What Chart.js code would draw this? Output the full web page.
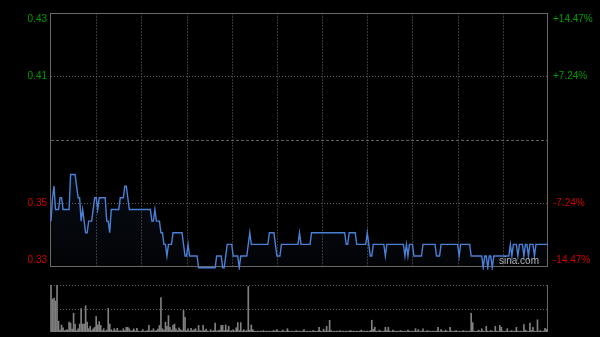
<!DOCTYPE html>
<html>
<head>
<meta charset="utf-8">
<script src="https://cdn.jsdelivr.net/npm/chart.js@4.4.0/dist/chart.umd.min.js"></script>
<style>
html, body { margin: 0; padding: 0; background: #000; }
#wrap { position: relative; width: 600px; height: 337px; background: #000; overflow: hidden; }
#priceBox { position: absolute; left: 0; top: 0; width: 600px; height: 280px; }
#volBox { position: absolute; left: 0; top: 280px; width: 600px; height: 57px; }
</style>
</head>
<body>
<div id="wrap">
	<div id="priceBox"><canvas id="priceChart" width="600" height="280"></canvas></div>
	<div id="volBox"><canvas id="volChart" width="600" height="57"></canvas></div>
</div>
<script>
var prevClose = 0.375
var pctSteps = [-14.47, -7.24, 0, 7.24, 14.47]
var leftLabels = ['0.33', '0.35', '', '0.41', '0.43']
var rightLabels = ['-14.47%', '-7.24%', '', '+7.24%', '+14.47%']

// one value per minute, 9:30-12:00 and 13:00-16:00
var price = [
	0.34, 0.35, 0.355, 0.345, 0.345, 0.345, 0.35, 0.35, 0.345, 0.345,
	0.345, 0.345, 0.345, 0.36, 0.36, 0.36, 0.36, 0.355, 0.35, 0.35,
	0.34, 0.345, 0.34, 0.335, 0.335, 0.34, 0.34, 0.34, 0.345, 0.35,
	0.35, 0.345, 0.35, 0.35, 0.35, 0.35, 0.35, 0.34, 0.34, 0.335,
	0.345, 0.345, 0.345, 0.345, 0.345, 0.345, 0.35, 0.35, 0.35, 0.355,
	0.355, 0.35, 0.345, 0.345, 0.345, 0.345, 0.345, 0.345, 0.345, 0.345,
	0.345, 0.345, 0.345, 0.345, 0.345, 0.345, 0.345, 0.34, 0.34, 0.345,
	0.34, 0.34, 0.34, 0.335, 0.335, 0.33, 0.33, 0.325, 0.33, 0.33,
	0.33, 0.335, 0.335, 0.335, 0.335, 0.335, 0.335, 0.335, 0.33, 0.325,
	0.325, 0.33, 0.325, 0.325, 0.325, 0.325, 0.325, 0.325, 0.32, 0.32,
	0.32, 0.32, 0.32, 0.32, 0.32, 0.32, 0.32, 0.32, 0.32, 0.32,
	0.325, 0.325, 0.325, 0.325, 0.32, 0.32, 0.325, 0.33, 0.33, 0.33,
	0.33, 0.325, 0.325, 0.325, 0.325, 0.32, 0.325, 0.325, 0.325, 0.325,
	0.325, 0.33, 0.335, 0.33, 0.33, 0.33, 0.33, 0.33, 0.33, 0.33,
	0.33, 0.33, 0.33, 0.33, 0.33, 0.335, 0.335, 0.335, 0.335, 0.33,
	0.325, 0.325, 0.325, 0.33, 0.33, 0.33, 0.33, 0.33, 0.33, 0.33,
	0.33, 0.33, 0.33, 0.33, 0.33, 0.335, 0.33, 0.33, 0.33, 0.33,
	0.33, 0.33, 0.33, 0.335, 0.335, 0.335, 0.335, 0.335, 0.335, 0.335,
	0.335, 0.335, 0.335, 0.335, 0.335, 0.335, 0.335, 0.335, 0.335, 0.335,
	0.335, 0.335, 0.335, 0.335, 0.335, 0.335, 0.33, 0.33, 0.335, 0.335,
	0.335, 0.335, 0.335, 0.33, 0.33, 0.33, 0.33, 0.33, 0.33, 0.33,
	0.335, 0.33, 0.325, 0.325, 0.33, 0.33, 0.33, 0.33, 0.33, 0.33,
	0.33, 0.33, 0.325, 0.33, 0.33, 0.33, 0.33, 0.33, 0.33, 0.33,
	0.33, 0.33, 0.33, 0.33, 0.33, 0.325, 0.33, 0.325, 0.33, 0.33,
	0.33, 0.325, 0.325, 0.325, 0.325, 0.325, 0.325, 0.33, 0.33, 0.33,
	0.33, 0.33, 0.33, 0.33, 0.33, 0.33, 0.325, 0.325, 0.325, 0.33,
	0.33, 0.33, 0.33, 0.33, 0.33, 0.33, 0.33, 0.33, 0.33, 0.33,
	0.33, 0.325, 0.33, 0.33, 0.33, 0.33, 0.33, 0.33, 0.33, 0.325,
	0.325, 0.325, 0.325, 0.325, 0.325, 0.325, 0.325, 0.32, 0.325, 0.325,
	0.32, 0.325, 0.325, 0.32, 0.325, 0.325, 0.325, 0.325, 0.325, 0.325,
	0.325, 0.325, 0.325, 0.325, 0.325, 0.33, 0.325, 0.33, 0.33, 0.33,
	0.325, 0.33, 0.33, 0.33, 0.325, 0.33, 0.33, 0.325, 0.33, 0.33,
	0.33, 0.325, 0.33, 0.33, 0.33, 0.33, 0.33, 0.33, 0.33, 0.33,
	0.33
]

// volume, 100 = top line of the lower panel
var volume = [
	100, 70, 72, 66, 100, 23, 4, 15, 9, 3,
	4, 5, 21, 19, 6, 40, 17, 3, 7, 17,
	50, 17, 17, 56, 21, 7, 12, 3, 7, 10,
	33, 15, 22, 14, 3, 7, 2, 4, 50, 17,
	5, 2, 7, 3, 8, 2, 3, 2, 7, 3,
	10, 10, 7, 2, 3, 7, 2, 8, 2, 1,
	2, 5, 1, 2, 3, 14, 2, 3, 7, 2,
	3, 6, 14, 73, 7, 4, 21, 12, 35, 10,
	4, 14, 17, 7, 3, 9, 5, 3, 46, 31,
	3, 7, 2, 8, 3, 5, 7, 2, 14, 3,
	2, 14, 3, 6, 2, 1, 5, 2, 3, 19,
	2, 3, 4, 14, 14, 3, 15, 4, 12, 2,
	3, 5, 2, 9, 20, 3, 20, 2, 5, 2,
	3, 97, 4, 15, 5, 2, 1, 2, 1, 2,
	1, 3, 1, 2, 1, 2, 1, 2, 3, 2,
	5, 2, 1, 2, 4, 1, 2, 7, 2, 1,
	2, 1, 2, 3, 1, 2, 1, 2, 5, 1,
	2, 1, 2, 1, 3, 2, 1, 2, 10, 2,
	1, 6, 2, 12, 2, 25, 3, 1, 2, 1,
	2, 1, 3, 1, 2, 1, 2, 1, 2, 3,
	1, 2, 1, 2, 1, 2, 4, 1, 2, 1,
	2, 1, 3, 25, 6, 10, 2, 1, 4, 2,
	1, 2, 10, 3, 10, 2, 1, 4, 2, 1,
	2, 1, 3, 2, 1, 2, 1, 4, 2, 1,
	2, 1, 7, 2, 5, 1, 2, 7, 1, 2,
	3, 1, 2, 1, 2, 1, 2, 10, 1, 5,
	2, 1, 4, 2, 1, 10, 2, 1, 2, 3,
	1, 2, 1, 2, 3, 1, 2, 1, 2, 40,
	20, 2, 1, 2, 4, 1, 7, 2, 1, 12,
	2, 1, 3, 2, 1, 12, 2, 1, 14, 10,
	2, 1, 2, 7, 1, 2, 3, 1, 2, 10,
	2, 1, 2, 1, 16, 4, 2, 1, 19, 3,
	10, 2, 1, 26, 2, 3, 1, 2, 8, 6,
	3
]

var upColor = '#009c00'
var downColor = '#d00000'
var labelFont = { family: 'Liberation Sans, Arial, sans-serif', size: 10 }

/* time labels */
var times = []
function pad(n) { return n < 10 ? '0' + n : '' + n }
for (var m = 9 * 60 + 30; m < 12 * 60; m++) times.push(Math.floor(m / 60) + ':' + pad(m % 60))
for (var m = 13 * 60; m <= 16 * 60; m++) times.push(Math.floor(m / 60) + ':' + pad(m % 60))

var tickVals = pctSteps.map(function(p) { return prevClose * (1 + p / 100) })

function sideLabel(list) {
	return function(value, index) {
		if (index == 0) return [list[index], '']
		if (index == list.length - 1) return ['', list[index]]
		return list[index]
	}
}

function tickColor(ctx) {
	return ctx.index < 2 ? downColor : upColor
}

function priceAxis(pos, list, width, padding) {
	return {
		position: pos,
		min: tickVals[0],
		max: tickVals[tickVals.length - 1],
		afterBuildTicks: function(scale) {
			scale.ticks = tickVals.map(function(v) { return { value: v } })
		},
		afterFit: function(scale) {
			scale.width = width
			scale.paddingTop = 0
			scale.paddingBottom = 0
		},
		grid: { display: false, drawTicks: false },
		border: { display: false },
		ticks: {
			autoSkip: false,
			padding: padding,
			color: tickColor,
			font: labelFont,
			callback: sideLabel(list)
		}
	}
}

var priceGrid = {
	id: 'priceGrid',
	beforeDatasetsDraw: function(c) {
		var a = c.chartArea, x = c.scales.x, y = c.scales.y, g = c.ctx
		g.save()
		g.lineWidth = 1
		g.strokeStyle = '#363636'
		g.setLineDash([2, 1])
		for (var i = 30; i < price.length - 1; i += 30) {
			var px = Math.round(x.getPixelForValue(i)) + 0.5
			g.beginPath(); g.moveTo(px, a.top); g.lineTo(px, a.bottom); g.stroke()
		}
		for (var k = 1; k < tickVals.length - 1; k++) {
			var py = Math.round(y.getPixelForValue(tickVals[k])) + 0.5
			g.strokeStyle = '#5e5e5e'
			g.setLineDash(k == 2 ? [3, 2] : [1, 2])
			g.beginPath(); g.moveTo(a.left, py); g.lineTo(a.right, py); g.stroke()
		}
		g.setLineDash([])
		g.strokeStyle = '#686868'
		g.strokeRect(a.left - 0.5, a.top + 0.5, a.right - a.left, a.bottom - a.top)
		g.restore()
	},
	afterDatasetsDraw: function(c) {
		var a = c.chartArea, g = c.ctx
		g.save()
		g.font = '10px Liberation Sans, Arial, sans-serif'
		g.fillStyle = '#b4b4b4'
		g.textBaseline = 'alphabetic'
		g.fillText('sina.com', a.right - 49, a.bottom - 2)
		g.restore()
	}
}

var volGrid = {
	id: 'volGrid',
	beforeDatasetsDraw: function(c) {
		var a = c.chartArea, y = c.scales.y, g = c.ctx
		g.save()
		g.lineWidth = 1
		g.strokeStyle = '#5e5e5e'
		g.setLineDash([1, 2])
		var rows = [a.top + 0.5, Math.round(y.getPixelForValue(50)) + 0.5, a.bottom - 0.5]
		rows.forEach(function(py) {
			g.beginPath(); g.moveTo(a.left, py); g.lineTo(a.right, py); g.stroke()
		})
		g.setLineDash([])
		g.strokeStyle = '#686868'
		g.beginPath()
		g.moveTo(a.left - 0.5, a.top); g.lineTo(a.left - 0.5, a.bottom)
		g.moveTo(a.right - 0.5, a.top); g.lineTo(a.right - 0.5, a.bottom)
		g.stroke()
		g.restore()
	}
}

/* price chart */
var ctx = document.getElementById('priceChart').getContext('2d')
var chart = new Chart(ctx, {
	type: 'line',
	data: {
		labels: times,
		datasets: [{
			data: price,
			yAxisID: 'y',
			borderColor: '#4a80d6',
			borderWidth: 1.4,
			pointRadius: 0,
			tension: 0,
			clip: 4,
			fill: 'start',
			backgroundColor: function(context) {
				var a = context.chart.chartArea
				if (!a) return 'rgba(60,100,170,0.08)'
				var gr = context.chart.ctx.createLinearGradient(0, a.top + 150, 0, a.bottom)
				gr.addColorStop(0, 'rgba(60,100,170,0.13)')
				gr.addColorStop(1, 'rgba(60,100,170,0.04)')
				return gr
			}
		}]
	},
	options: {
		responsive: false,
		animation: false,
		layout: { padding: { top: 13, bottom: 14, left: 0, right: 0 } },
		plugins: { legend: { display: false }, tooltip: { enabled: false } },
		scales: {
			x: { display: false, offset: false },
			y: priceAxis('left', leftLabels, 51, 4),
			y2: priceAxis('right', rightLabels, 52, 5)
		}
	},
	plugins: [priceGrid]
})

/* volume chart */
var vctx = document.getElementById('volChart').getContext('2d')
var vchart = new Chart(vctx, {
	type: 'bar',
	data: {
		labels: times,
		datasets: [{
			data: volume,
			backgroundColor: '#808080',
			barThickness: 1
		}]
	},
	options: {
		responsive: false,
		animation: false,
		layout: { padding: { top: 5, bottom: 5, left: 0, right: 0 } },
		plugins: { legend: { display: false }, tooltip: { enabled: false } },
		scales: {
			x: { display: false, offset: false },
			y: {
				position: 'left', min: 0, max: 100,
				afterFit: function(s) { s.width = 51 },
				ticks: { display: false }, grid: { display: false, drawTicks: false }, border: { display: false }
			},
			y2: {
				position: 'right', min: 0, max: 100,
				afterFit: function(s) { s.width = 52 },
				ticks: { display: false }, grid: { display: false, drawTicks: false }, border: { display: false }
			}
		}
	},
	plugins: [volGrid]
})
</script>
</body>
</html>
